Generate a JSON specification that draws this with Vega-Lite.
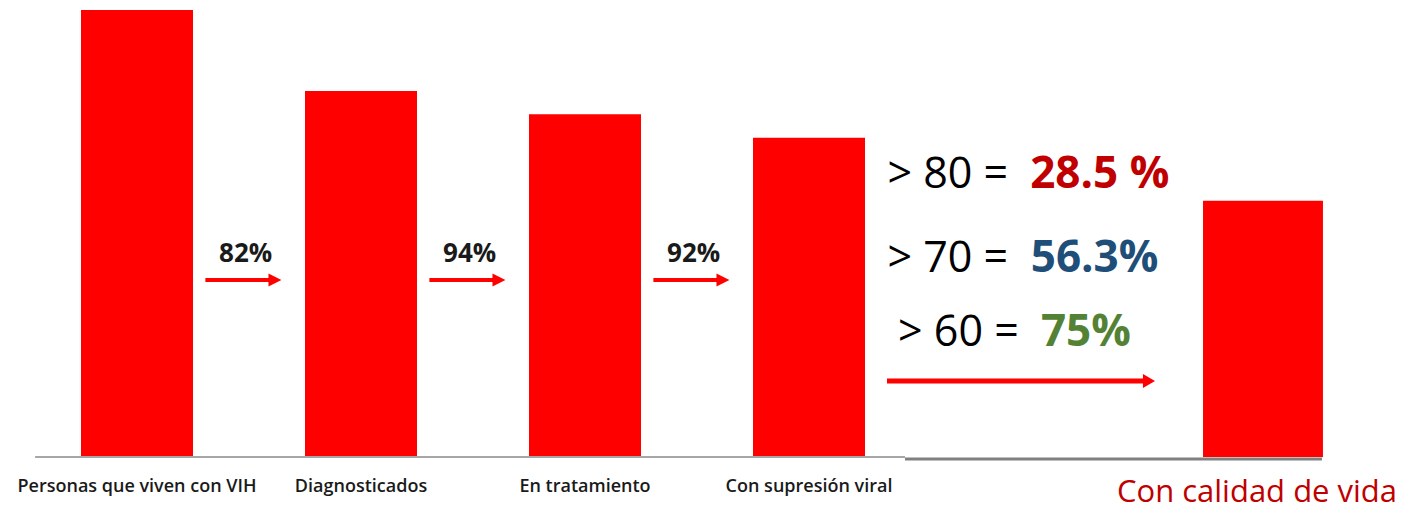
{
  "$schema": "https://vega.github.io/schema/vega-lite/v6.json",
  "width": 1412,
  "height": 447,
  "autosize": "none",
  "padding": {"top": 10, "left": 0, "right": 0, "bottom": 55},
  "background": "white",
  "config": {"view": {"stroke": null}, "font": "Open Sans"},
  "datasets": {
    "bars": [
      {"stage": "Personas que viven con VIH", "value": 100},
      {"stage": "Diagnosticados", "value": 81.9},
      {"stage": "En tratamiento", "value": 76.7},
      {"stage": "Con supresión viral", "value": 71.4},
      {"stage": "Con calidad de vida", "value": 57.3}
    ],
    "steps": [
      {"from": "Personas que viven con VIH", "pct": "82%"},
      {"from": "Diagnosticados", "pct": "94%"},
      {"from": "En tratamiento", "pct": "92%"}
    ],
    "quality": [
      {"edad": "> 80 =", "pct": "28.5 %"},
      {"edad": "> 70 =", "pct": "56.3%"},
      {"edad": "> 60 =", "pct": "75%"}
    ],
    "one": [{}]
  },
  "layer": [
    {
      "data": {"name": "bars"},
      "transform": [{"filter": "datum.stage != 'Con calidad de vida'"}],
      "mark": {"type": "bar", "color": "#ff0000"},
      "encoding": {
        "x": {
          "field": "stage",
          "type": "nominal",
          "sort": null,
          "scale": {
            "type": "band",
            "domain": ["Personas que viven con VIH", "Diagnosticados", "En tratamiento", "Con supresión viral", " ", "Con calidad de vida"],
            "range": [25, 1369],
            "paddingInner": 0.5,
            "paddingOuter": 0.25
          },
          "axis": {
            "title": null,
            "domain": false,
            "ticks": false,
            "labelAngle": 0,
            "labelPadding": 20,
            "labelLimit": 500,
            "labelFont": "Open Sans",
            "labelFontWeight": {"condition": {"test": "datum.value == 'Con calidad de vida'", "value": "normal"}, "value": 600},
            "labelFontSize": {"condition": {"test": "datum.value == 'Con calidad de vida'", "value": 31}, "value": 18},
            "labelColor": {"condition": {"test": "datum.value == 'Con calidad de vida'", "value": "#c00000"}, "value": "#1a1a1a"}
          }
        },
        "y": {"field": "value", "type": "quantitative", "scale": {"domain": [0, 100], "nice": false, "zero": true, "padding": 0}, "axis": null}
      }
    },
    {
      "data": {"name": "bars"},
      "transform": [{"filter": "datum.stage == 'Con calidad de vida'"}],
      "mark": {"type": "rect", "color": "#ff0000"},
      "encoding": {
        "x": {"field": "stage", "type": "nominal", "bandPosition": 0.018},
        "x2": {"field": "stage", "bandPosition": 1.089},
        "y": {"field": "value", "type": "quantitative"},
        "y2": {"datum": 0}
      }
    },
    {
      "data": {"name": "one"},
      "mark": {"type": "rule", "color": "#a6a6a6", "strokeWidth": 2},
      "encoding": {
        "x": {"datum": "Personas que viven con VIH", "type": "nominal", "bandPosition": -0.41},
        "x2": {"datum": "Con supresión viral", "bandPosition": 1.357},
        "y": {"datum": 0, "type": "quantitative"}
      }
    },
    {
      "data": {"name": "one"},
      "mark": {"type": "rule", "color": "#808080", "strokeWidth": 3},
      "encoding": {
        "x": {"datum": "Con supresión viral", "type": "nominal", "bandPosition": 1.357},
        "x2": {"datum": "Con calidad de vida", "bandPosition": 1.08},
        "y": {"datum": -0.45, "type": "quantitative"}
      }
    },
    {
      "data": {"name": "steps"},
      "mark": {"type": "text", "font": "Open Sans", "fontSize": 26, "fontWeight": "bold", "color": "#1a1a1a", "baseline": "middle", "align": "center"},
      "encoding": {
        "x": {"field": "from", "type": "nominal", "bandPosition": 1.47},
        "y": {"datum": 45.4, "type": "quantitative"},
        "text": {"field": "pct"}
      }
    },
    {
      "data": {"name": "steps"},
      "mark": {"type": "point", "filled": true, "color": "#ff0000", "opacity": 1, "strokeWidth": 0, "size": 5776,
        "shape": "M-1,-0.05L0.66,-0.05L0.66,-0.17L1,0L0.66,0.17L0.66,0.05L-1,0.05Z"},
      "encoding": {
        "x": {"field": "from", "type": "nominal", "bandPosition": 1.45},
        "y": {"datum": 39.6, "type": "quantitative"}
      }
    },
    {
      "data": {"name": "one"},
      "mark": {"type": "point", "filled": true, "color": "#ff0000", "opacity": 1, "strokeWidth": 0, "size": 71824,
        "shape": "M-1,-0.019L0.91,-0.019L0.91,-0.052L1,0L0.91,0.052L0.91,0.019L-1,0.019Z"},
      "encoding": {
        "x": {"datum": " ", "type": "nominal", "bandPosition": 0.393},
        "y": {"datum": 17, "type": "quantitative"}
      }
    },
    {
      "data": {"name": "quality"},
      "transform": [{"filter": "datum.pct == '28.5 %'"}],
      "encoding": {"y": {"datum": 63.1, "type": "quantitative"}},
      "layer": [
        {
          "mark": {"type": "text", "font": "Open Sans", "fontSize": 43, "color": "#000000", "align": "left", "baseline": "middle"},
          "encoding": {"x": {"datum": " ", "type": "nominal", "bandPosition": -0.8}, "text": {"field": "edad"}}
        },
        {
          "mark": {"type": "text", "font": "Open Sans", "fontSize": 44, "fontWeight": "bold", "color": "#c00000", "align": "left", "baseline": "middle"},
          "encoding": {"x": {"datum": " ", "type": "nominal", "bandPosition": 0.475}, "text": {"field": "pct"}}
        }
      ]
    },
    {
      "data": {"name": "quality"},
      "transform": [{"filter": "datum.pct == '56.3%'"}],
      "encoding": {"y": {"datum": 44.3, "type": "quantitative"}},
      "layer": [
        {
          "mark": {"type": "text", "font": "Open Sans", "fontSize": 43, "color": "#000000", "align": "left", "baseline": "middle"},
          "encoding": {"x": {"datum": " ", "type": "nominal", "bandPosition": -0.8}, "text": {"field": "edad"}}
        },
        {
          "mark": {"type": "text", "font": "Open Sans", "fontSize": 44, "fontWeight": "bold", "color": "#1f4e79", "align": "left", "baseline": "middle"},
          "encoding": {"x": {"datum": " ", "type": "nominal", "bandPosition": 0.48}, "text": {"field": "pct"}}
        }
      ]
    },
    {
      "data": {"name": "quality"},
      "transform": [{"filter": "datum.pct == '75%'"}],
      "encoding": {"y": {"datum": 27.7, "type": "quantitative"}},
      "layer": [
        {
          "mark": {"type": "text", "font": "Open Sans", "fontSize": 43, "color": "#000000", "align": "left", "baseline": "middle"},
          "encoding": {"x": {"datum": " ", "type": "nominal", "bandPosition": -0.705}, "text": {"field": "edad"}}
        },
        {
          "mark": {"type": "text", "font": "Open Sans", "fontSize": 44, "fontWeight": "bold", "color": "#548235", "align": "left", "baseline": "middle"},
          "encoding": {"x": {"datum": " ", "type": "nominal", "bandPosition": 0.571}, "text": {"field": "pct"}}
        }
      ]
    }
  ]
}
